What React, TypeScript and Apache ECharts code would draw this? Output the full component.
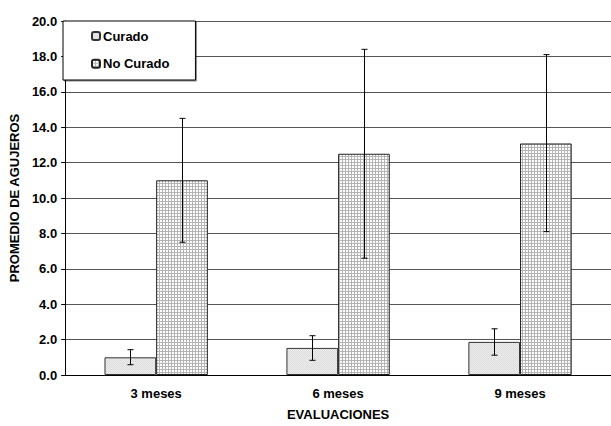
import React, { useEffect, useRef } from "react";
import * as echarts from "echarts";

const categories = ["3 meses", "6 meses", "9 meses"];
const seriesNames = ["Curado", "No Curado"];
const curadoValues = [1.0, 1.53, 1.87];
const curadoLow = [0.58, 0.83, 1.12];
const curadoHigh = [1.43, 2.22, 2.61];
const noCuradoValues = [11.0, 12.5, 13.08];
const noCuradoLow = [7.5, 6.6, 8.1];
const noCuradoHigh = [14.5, 18.4, 18.1];
const yTicks = [0, 2, 4, 6, 8, 10, 12, 14, 16, 18, 20];

const FONT = "'Liberation Sans', Arial, sans-serif";

function makeTile(kind: "light" | "mesh"): HTMLCanvasElement {
  const c = document.createElement("canvas");
  if (kind === "light") {
    c.width = 2;
    c.height = 2;
    const g = c.getContext("2d")!;
    g.fillStyle = "#efefef";
    g.fillRect(0, 0, 2, 2);
    g.fillStyle = "#dadada";
    g.fillRect(0, 0, 1, 1);
    g.fillRect(1, 1, 1, 1);
  } else {
    c.width = 3;
    c.height = 3;
    const g = c.getContext("2d")!;
    g.fillStyle = "#ffffff";
    g.fillRect(0, 0, 3, 3);
    g.fillStyle = "#b4b4b4";
    g.fillRect(0, 0, 3, 1);
    g.fillRect(0, 0, 1, 3);
  }
  return c;
}

export default function App() {
  const ref = useRef<HTMLDivElement>(null);
  useEffect(() => {
    if (!ref.current) return;
    const chart = echarts.init(ref.current, undefined, { renderer: "svg" });
    const lightPattern = { image: makeTile("light"), repeat: "repeat" };
    const meshPattern = { image: makeTile("mesh"), repeat: "repeat" };

    const errData: number[][] = [];
    categories.forEach((_, i) => {
      errData.push([i, curadoLow[i], curadoHigh[i], 0]);
      errData.push([i, noCuradoLow[i], noCuradoHigh[i], 1]);
    });

    const BAR_PCT = 0.284;

    chart.setOption({
      animation: false,
      textStyle: { fontFamily: FONT },
      grid: { left: 63, right: -4, top: 21, bottom: 45 },
      legend: {
        left: 63,
        top: 21,
        orient: "vertical",
        data: seriesNames,
        itemWidth: 8,
        itemHeight: 8,
        itemGap: 14.7,
        padding: [8.5, 26, 9.8, 28],
        backgroundColor: "#ffffff",
        borderColor: "#000000",
        borderWidth: 1,
        shadowColor: "rgba(0,0,0,0.45)",
        shadowOffsetX: 1,
        shadowOffsetY: 1,
        shadowBlur: 0,
        textStyle: {
          fontFamily: FONT,
          fontWeight: "bold",
          fontSize: 13,
          color: "#000",
          padding: [0, 0, 0, -2],
        },
      },
      xAxis: {
        type: "category",
        data: categories,
        name: "EVALUACIONES",
        nameLocation: "middle",
        nameGap: 33,
        nameTextStyle: { fontFamily: FONT, fontWeight: "bold", fontSize: 13, color: "#000" },
        axisLine: { lineStyle: { color: "#000", width: 1 } },
        axisTick: { length: 4, lineStyle: { color: "#000" } },
        axisLabel: { margin: 12, fontFamily: FONT, fontWeight: "bold", fontSize: 13, color: "#000" },
      },
      yAxis: {
        type: "value",
        min: 0,
        max: 20,
        interval: 2,
        name: "PROMEDIO DE AGUJEROS",
        nameLocation: "middle",
        nameRotate: 90,
        nameGap: 40,
        nameTextStyle: { fontFamily: FONT, fontWeight: "bold", fontSize: 13, color: "#000" },
        axisLine: { show: true, lineStyle: { color: "#000", width: 1 } },
        axisTick: { show: true, length: 4, lineStyle: { color: "#000" } },
        axisLabel: {
          margin: 8,
          fontFamily: FONT,
          fontWeight: "bold",
          fontSize: 13,
          color: "#000",
          formatter: (v: number) => (yTicks.includes(v) ? v.toFixed(1) : ""),
        },
        splitLine: { lineStyle: { color: "#555555", width: 1 } },
      },
      series: [
        {
          name: seriesNames[0],
          type: "bar",
          data: curadoValues,
          barWidth: BAR_PCT * 100 + "%",
          barGap: "0%",
          itemStyle: { color: lightPattern, borderColor: "#333", borderWidth: 1 },
        },
        {
          name: seriesNames[1],
          type: "bar",
          data: noCuradoValues,
          barWidth: BAR_PCT * 100 + "%",
          barGap: "0%",
          itemStyle: { color: meshPattern, borderColor: "#222", borderWidth: 1 },
        },
        {
          type: "custom",
          name: "err",
          data: errData,
          z: 10,
          renderItem: (params: any, api: any) => {
            const cat = api.value(0);
            const lo = api.value(1);
            const hi = api.value(2);
            const side = api.value(3);
            const catW = api.size([1, 0])[0];
            const bw = catW * BAR_PCT;
            const pLo = api.coord([cat, lo]);
            const pHi = api.coord([cat, hi]);
            const x = Math.round(pLo[0] + (side === 0 ? -bw / 2 : bw / 2)) + 0.5;
            const cap = 3;
            const style = { stroke: "#000", lineWidth: 1 };
            return {
              type: "group",
              children: [
                { type: "line", shape: { x1: x, y1: pLo[1], x2: x, y2: pHi[1] }, style },
                { type: "line", shape: { x1: x - cap, y1: pLo[1], x2: x + cap, y2: pLo[1] }, style },
                { type: "line", shape: { x1: x - cap, y1: pHi[1], x2: x + cap, y2: pHi[1] }, style },
              ],
            };
          },
        },
      ],
    });
    return () => chart.dispose();
  }, []);
  return (
    <div
      ref={ref}
      style={{ position: "absolute", left: 0, top: 0, width: 611, height: 426, overflow: "hidden" }}
    />
  );
}
